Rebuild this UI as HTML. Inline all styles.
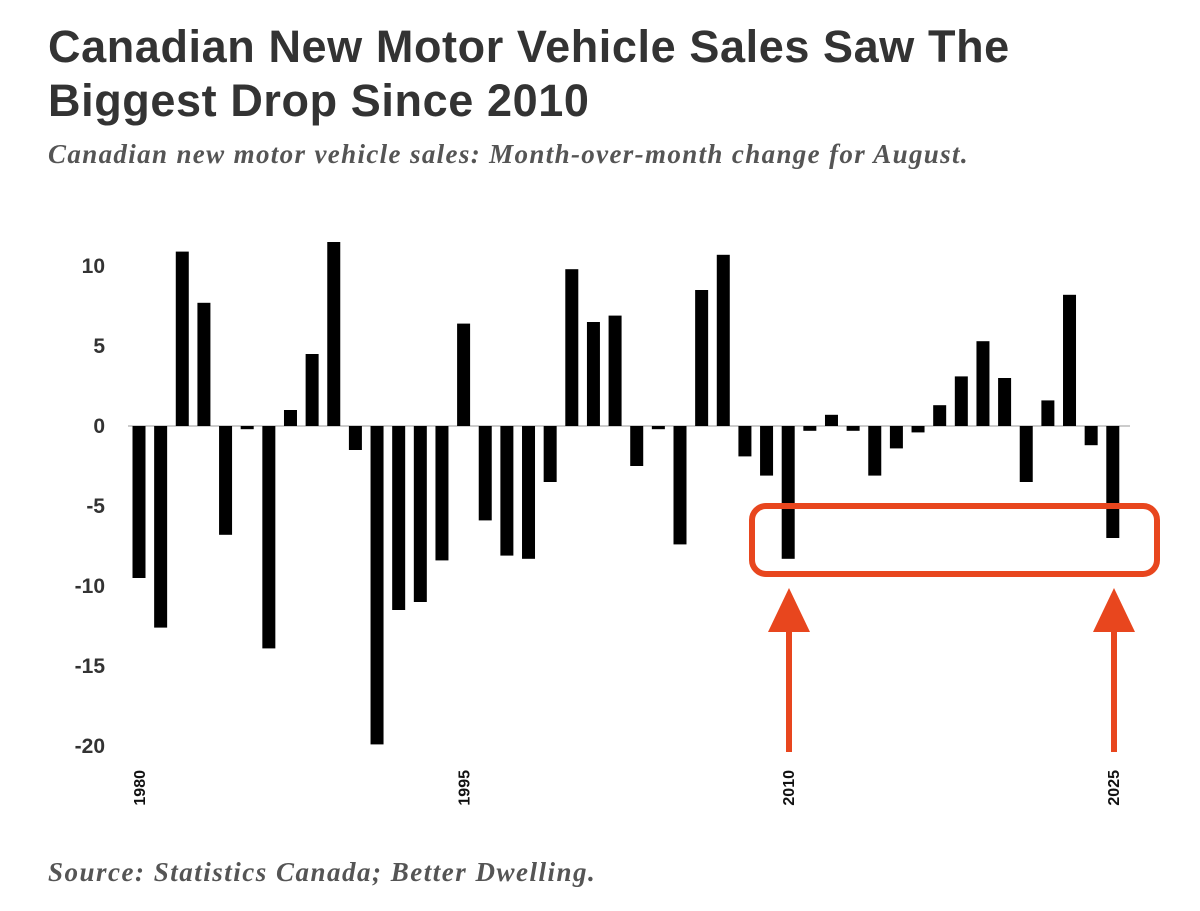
<!DOCTYPE html>
<html><head><meta charset="utf-8"><style>
body{margin:0;width:1200px;height:911px;background:#fff;overflow:hidden;position:relative;font-family:"Liberation Sans",sans-serif}
#title{position:absolute;left:48px;top:20px;font-size:45px;font-weight:bold;color:#333;line-height:54px;letter-spacing:0.6px;margin:0;white-space:nowrap}
#sub{position:absolute;left:48px;top:139px;font-family:"Liberation Serif",serif;font-style:italic;font-weight:bold;font-size:27px;letter-spacing:1.35px;color:#555;white-space:nowrap}
#src{position:absolute;left:48px;top:857px;font-family:"Liberation Serif",serif;font-style:italic;font-weight:bold;font-size:27px;letter-spacing:1.5px;color:#555;white-space:nowrap}
svg{position:absolute;left:0;top:0}
</style></head><body>
<h1 id="title">Canadian New Motor Vehicle Sales Saw The<br>Biggest Drop Since 2010</h1>
<div id="sub">Canadian new motor vehicle sales: Month-over-month change for August.</div>
<div id="src">Source: Statistics Canada; Better Dwelling.</div>
<svg id="chart" width="1200" height="911"></svg>
<script>
const years=[];for(let y=1980;y<=2025;y++)years.push(y);
const values=[-9.5,-12.6,10.9,7.7,-6.8,-0.2,-13.9,1.0,4.5,11.5,-1.5,-19.9,-11.5,-11.0,-8.4,6.4,-5.9,-8.1,-8.3,-3.5,9.8,6.5,6.9,-2.5,-0.2,-7.4,8.5,10.7,-1.9,-3.1,-8.3,-0.3,0.7,-0.3,-3.1,-1.4,-0.4,1.3,3.1,5.3,3.0,-3.5,1.6,8.2,-1.2,-7.0];
const yTicks=[10,5,0,-5,-10,-15,-20];
const xLabels=[1980,1995,2010,2025];
const NS="http://www.w3.org/2000/svg",svg=document.getElementById('chart');
const x=yr=>139+(yr-1980)*21.64, y=v=>426-v*16;
function mk(t,a){const e=document.createElementNS(NS,t);for(const k in a)e.setAttribute(k,a[k]);svg.appendChild(e);return e;}
const zl=mk('line',{x1:128,x2:1130,y1:y(0),y2:y(0),stroke:'#999','stroke-width':1});


years.forEach((yr,i)=>{const v=values[i];
const r=mk('rect',{x:x(yr)-6.5,width:13,y:Math.min(y(v),y(0)),height:Math.abs(y(v)-y(0)),fill:'#000'});

});
yTicks.forEach(t=>{const e=mk('text',{x:105,y:y(t)+7,'text-anchor':'end','font-size':21,'font-weight':'bold',fill:'#333'});e.textContent=t;

});
xLabels.forEach(l=>{const e=mk('text',{transform:`translate(${x(l)+6},770) rotate(-90)`,'text-anchor':'end','font-size':16,'font-weight':'bold',fill:'#111'});e.textContent=l;

});
const box=mk('rect',{x:752,y:506,width:405,height:68,rx:14,fill:'none',stroke:'#e8461e','stroke-width':6});


[789,1114].forEach(ax=>{
const l=mk('line',{x1:ax,x2:ax,y1:752,y2:620,stroke:'#e8461e','stroke-width':6});


const p=mk('polygon',{points:`${ax},588 ${ax-21},632 ${ax+21},632`,fill:'#e8461e'});

});
</script>
</body></html>
